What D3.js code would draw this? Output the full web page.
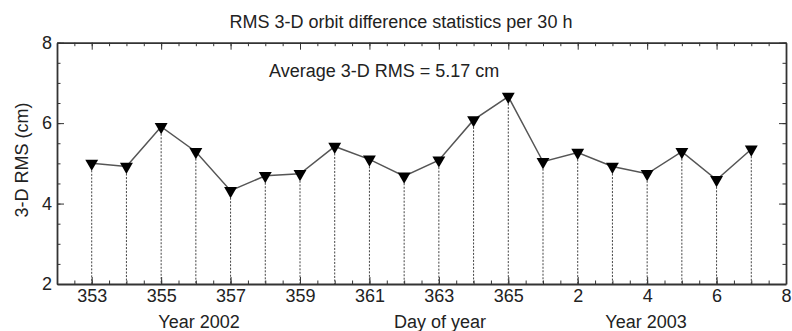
<!DOCTYPE html>
<html lang="en">
<head>
<meta charset="UTF-8">
<title>RMS 3-D orbit difference</title>
<script src="https://cdn.jsdelivr.net/npm/d3@7"></script>
<style>
    body { margin: 0; background: #fff; }
    svg { display: block; font-family: "Liberation Sans", Arial, sans-serif; }
    .axis path, .axis line { stroke: #333; }
    .axis path { stroke-width: 1.8; }
    .axis text { font-size: 18px; fill: #222; }
    .lbl { font-size: 18px; fill: #222; }
</style>
</head>
<body>
<div id="chart"></div>
<script>
    // day of year for each 30 h arc (Dec 2002 -> Jan 2003)
    const days = [353, 354, 355, 356, 357, 358, 359, 360, 361, 362, 363, 364, 365, 1, 2, 3, 4, 5, 6, 7];
    const rms = [5.00, 4.92, 5.91, 5.29, 4.32, 4.69, 4.74, 5.42, 5.10, 4.68, 5.08, 6.08, 6.66, 5.04, 5.27, 4.92, 4.74, 5.29, 4.59, 5.35];
    const xTickDays = [353, 355, 357, 359, 361, 363, 365, 367, 369, 371, 373];
    const yTicks = [2, 4, 6, 8];

    const width = 792, height = 331;
    const margin = {top: 42.7, right: 6, bottom: 47, left: 57};

    const svg = d3.select("#chart").append("svg")
        .attr("width", width)
        .attr("height", height);

    // continuous day axis running across the new year
    const seqDay = d => d < 300 ? d + 365 : d;
    const dayLabel = d => d > 365 ? d - 365 : d;

    const xScale = d3.scaleLinear().domain([352, 373]).range([margin.left, width - margin.right]);
    const yScale = d3.scaleLinear().domain([2, 8]).range([height - margin.bottom, margin.top]);

    const data = days.map((d, i) => ({x: seqDay(d), v: rms[i]}));
    const halfDays = d3.range(352, 373.01, 0.5);
    const halfUnits = d3.range(2, 8.01, 0.5);

    // minor ticks
    const minor = svg.append("g").attr("class", "axis");
    minor.append("g")
        .attr("transform", `translate(0,${yScale(2)})`)
        .call(d3.axisBottom(xScale).tickValues(halfDays).tickSize(-3.5).tickFormat(""));
    minor.append("g")
        .attr("transform", `translate(0,${yScale(8)})`)
        .call(d3.axisTop(xScale).tickValues(halfDays).tickSize(-3.5).tickFormat(""));
    minor.append("g")
        .attr("transform", `translate(${xScale(352)},0)`)
        .call(d3.axisLeft(yScale).tickValues(halfUnits).tickSize(-3.5).tickFormat(""));
    minor.append("g")
        .attr("transform", `translate(${xScale(373)},0)`)
        .call(d3.axisRight(yScale).tickValues(halfUnits).tickSize(-3.5).tickFormat(""));
    minor.selectAll("path").remove();

    // major axes
    svg.append("g").attr("class", "axis")
        .attr("transform", `translate(0,${yScale(2)})`)
        .call(d3.axisBottom(xScale).tickValues(xTickDays).tickSize(-7).tickPadding(5).tickFormat(dayLabel).tickSizeOuter(0));
    svg.append("g").attr("class", "axis")
        .attr("transform", `translate(0,${yScale(8)})`)
        .call(d3.axisTop(xScale).tickValues(xTickDays).tickSize(-7).tickFormat("").tickSizeOuter(0));
    svg.append("g").attr("class", "axis")
        .attr("transform", `translate(${xScale(352)},0)`)
        .call(d3.axisLeft(yScale).tickValues(yTicks).tickSize(-7).tickPadding(5).tickFormat(d3.format("d")).tickSizeOuter(0));
    svg.append("g").attr("class", "axis")
        .attr("transform", `translate(${xScale(373)},0)`)
        .call(d3.axisRight(yScale).tickValues(yTicks).tickSize(-7).tickFormat("").tickSizeOuter(0));

    // dotted drop lines
    svg.append("g").selectAll("line")
        .data(data)
        .join("line")
        .attr("x1", d => xScale(d.x))
        .attr("x2", d => xScale(d.x))
        .attr("y1", d => yScale(d.v))
        .attr("y2", yScale(2))
        .attr("stroke", "#444")
        .attr("stroke-width", 1)
        .attr("stroke-dasharray", "2,1.5");

    // connecting line
    const line = d3.line().x(d => xScale(d.x)).y(d => yScale(d.v));
    svg.append("path")
        .datum(data)
        .attr("d", line)
        .attr("fill", "none")
        .attr("stroke", "#555")
        .attr("stroke-width", 1.5);

    // down triangles
    svg.append("g").selectAll("path")
        .data(data)
        .join("path")
        .attr("transform", d => `translate(${xScale(d.x)},${yScale(d.v)}) rotate(180)`)
        .attr("d", d3.symbol(d3.symbolTriangle, 72))
        .attr("fill", "#000");

    // texts
    svg.append("text").attr("class", "lbl")
        .attr("x", 401).attr("y", 28)
        .attr("text-anchor", "middle")
        .text("RMS 3-D orbit difference statistics per 30 h");
    svg.append("text").attr("class", "lbl")
        .attr("x", 269).attr("y", 77)
        .text("Average 3-D RMS = 5.17 cm");
    svg.append("text").attr("class", "lbl")
        .attr("transform", "translate(27.5,160) rotate(-90)")
        .attr("text-anchor", "middle")
        .text("3-D RMS (cm)");
    svg.append("text").attr("class", "lbl")
        .attr("x", 199).attr("y", 328)
        .attr("text-anchor", "middle")
        .text("Year 2002");
    svg.append("text").attr("class", "lbl")
        .attr("x", 440).attr("y", 328)
        .attr("text-anchor", "middle")
        .text("Day of year");
    svg.append("text").attr("class", "lbl")
        .attr("x", 646).attr("y", 328)
        .attr("text-anchor", "middle")
        .text("Year 2003");
</script>
</body>
</html>
